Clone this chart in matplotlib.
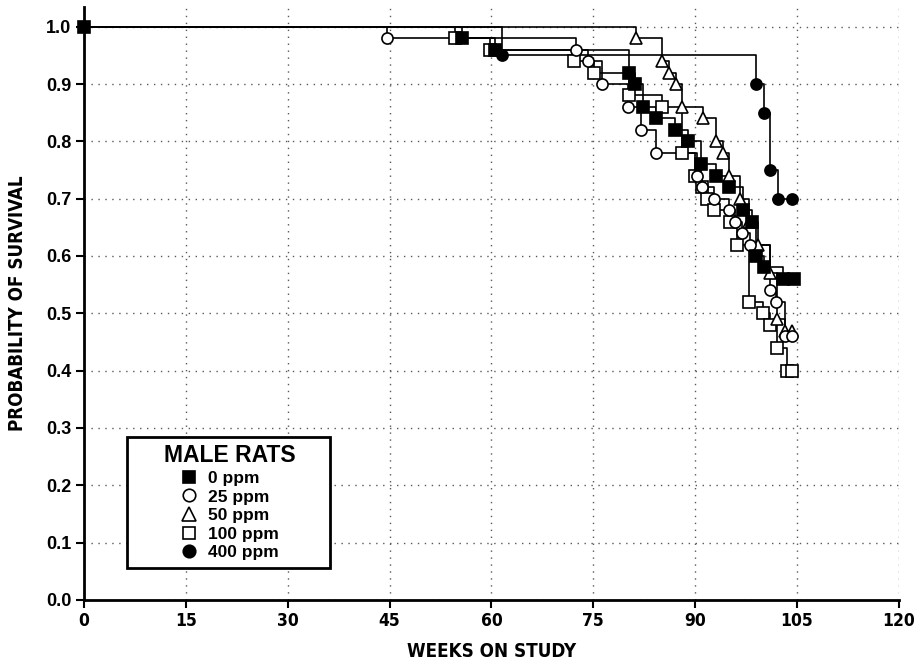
import matplotlib
matplotlib.use("Agg")
import matplotlib.pyplot as plt
from matplotlib.patches import Rectangle
from matplotlib import font_manager

# weeks on study / probability of survival
weeks_0 = [0, 55.6, 60.5, 80.3, 81.1, 82.3, 84.2, 87.1, 89.0, 90.9, 93.1, 95.0, 97.1, 98.4, 99.0, 100.1, 102.9, 104.6]
surv_0 = [1.0, 0.98, 0.96, 0.92, 0.90, 0.86, 0.84, 0.82, 0.80, 0.76, 0.74, 0.72, 0.68, 0.66, 0.60, 0.58, 0.56, 0.56]

weeks_25 = [0, 44.6, 72.4, 74.3, 76.3, 80.1, 82.1, 84.2, 90.3, 91.0, 92.8, 95.0, 95.9, 96.9, 98.1, 101.0, 101.9, 103.3, 104.3]
surv_25 = [1.0, 0.98, 0.96, 0.94, 0.90, 0.86, 0.82, 0.78, 0.74, 0.72, 0.70, 0.68, 0.66, 0.64, 0.62, 0.54, 0.52, 0.46, 0.46]

weeks_50 = [0, 81.3, 85.2, 86.2, 87.2, 88.1, 91.1, 93.1, 94.1, 95.0, 96.6, 98.0, 99.3, 101.0, 102.0, 103.2, 104.3]
surv_50 = [1.0, 0.98, 0.94, 0.92, 0.90, 0.86, 0.84, 0.80, 0.78, 0.74, 0.70, 0.66, 0.62, 0.57, 0.49, 0.47, 0.47]

weeks_100 = [0, 54.6, 59.8, 72.2, 75.1, 80.3, 85.2, 88.1, 90.0, 91.0, 91.8, 92.8, 95.2, 96.2, 98.0, 100.0, 101.0, 102.0, 103.5, 104.3]
surv_100 = [1.0, 0.98, 0.96, 0.94, 0.92, 0.88, 0.86, 0.78, 0.74, 0.72, 0.70, 0.68, 0.66, 0.62, 0.52, 0.50, 0.48, 0.44, 0.40, 0.40]

weeks_400 = [0, 61.5, 99.0, 100.1, 101.1, 102.2, 104.2]
surv_400 = [1.0, 0.95, 0.90, 0.85, 0.75, 0.70, 0.70]

labels = ["0 ppm", "25 ppm", "50 ppm", "100 ppm", "400 ppm"]

wide = ["Liberation Sans", "DejaVu Sans"]
# condensed bold face for the axis numbers/labels if one is around
cond = font_manager.FontProperties(family="DejaVu Sans", stretch="condensed", weight="bold")
have_cond = "Condensed" in font_manager.findfont(cond)

def narrow(size):
    if have_cond:
        return font_manager.FontProperties(family="DejaVu Sans", stretch="condensed",
                                           weight="bold", size=size)
    return font_manager.FontProperties(family="Liberation Sans", weight="bold", size=size * 0.88)

fig = plt.figure(figsize=(9.19, 6.62), dpi=100)
ax = fig.add_axes([0.0914, 0.0937, 0.8866, 0.8963])

# (weeks, survival, marker, facecolor, label, mark the start point?)
series = [
    (weeks_400, surv_400, "o", "black", labels[4], False),
    (weeks_100, surv_100, "s", "white", labels[3], False),
    (weeks_50, surv_50, "^", "white", labels[2], False),
    (weeks_25, surv_25, "o", "white", labels[1], False),
    (weeks_0, surv_0, "s", "black", labels[0], True),
]

handles = {}
for wk, sv, mk, fc, lab, first in series:
    ax.step(wk, sv, where="post", color="black", lw=1.2, zorder=3)
    start = 0 if first else 1
    ms = 8.5 if mk == "^" else 8
    ax.plot(wk[start:], sv[start:], ls="none", marker=mk, ms=ms,
            mfc=fc, mec="black", mew=1.2, zorder=4, clip_on=False)
    handles[lab] = plt.Line2D([], [], ls="none", marker=mk, ms=ms + 1,
                              mfc=fc, mec="black", mew=1.2)

ax.set_xlim(0, 120)
ax.set_ylim(0, 1.035)
ax.set_xticks(range(0, 121, 15))
ax.set_yticks([i / 10 for i in range(11)])
ax.set_yticklabels(["%.1f" % (i / 10) for i in range(11)])
ax.grid(True, linestyle=(0, (1, 4)), color="0.35", lw=1.0)
ax.set_axisbelow(True)

for s in ["top", "right"]:
    ax.spines[s].set_visible(False)
for s in ["left", "bottom"]:
    ax.spines[s].set_linewidth(2)

ax.tick_params(direction="out", length=6, width=1.5, pad=3)
for t in ax.get_xticklabels():
    t.set_fontproperties(narrow(12.5))
for t in ax.get_yticklabels():
    t.set_fontfamily(wide)
    t.set_fontweight("bold")
    t.set_fontsize(13)

ax.set_xlabel("WEEKS ON STUDY", fontproperties=narrow(13.5), labelpad=8)
ax.set_ylabel("PROBABILITY OF SURVIVAL", fontproperties=narrow(13.5), labelpad=14)

# legend box
ax.add_patch(Rectangle((0.0528, 0.054), 0.249, 0.221, transform=ax.transAxes,
                       fill=True, facecolor="white", edgecolor="black", lw=2, zorder=5))
leg = ax.legend([handles[l] for l in labels], labels, loc="center",
                bbox_to_anchor=(0.179, 0.1645), frameon=False, alignment="center",
                title="MALE RATS", handlelength=1.0, handletextpad=0.6,
                labelspacing=0.2, prop={"family": wide, "weight": "bold", "size": 12.5},
                title_fontproperties={"family": wide, "weight": "bold", "size": 16.5})
leg.set_zorder(6)

fig.savefig("out.png", dpi=100)
